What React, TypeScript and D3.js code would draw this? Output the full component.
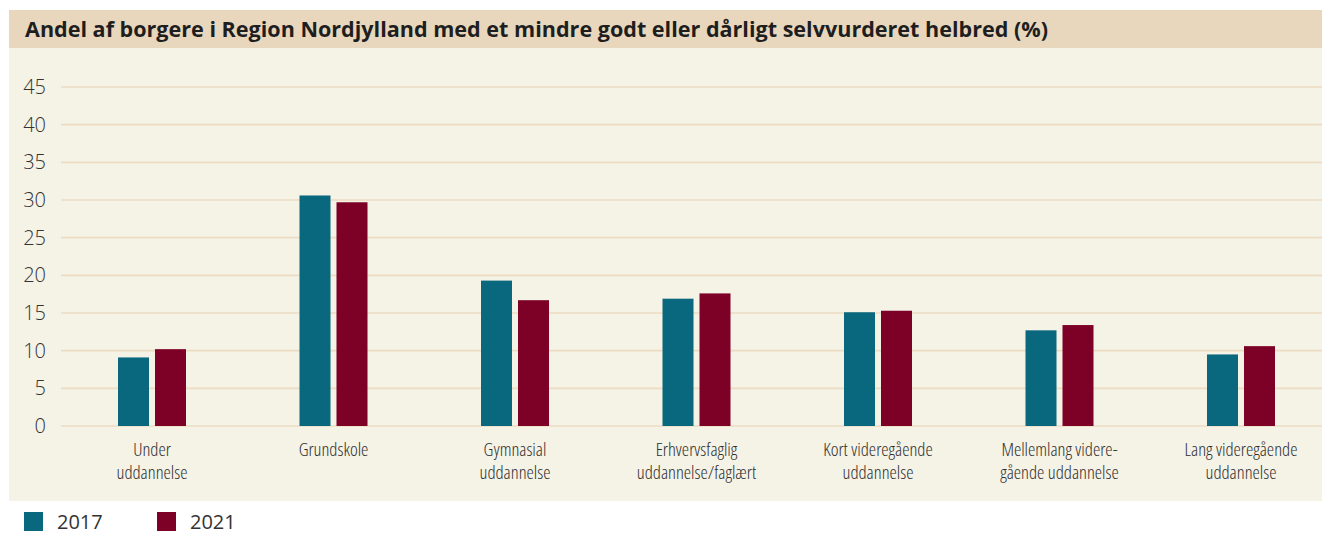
import React from "react";
import * as d3 from "d3";

const title = "Andel af borgere i Region Nordjylland med et mindre godt eller dårligt selvvurderet helbred (%)";
const categories = [
  ["Under", "uddannelse"],
  ["Grundskole"],
  ["Gymnasial", "uddannelse"],
  ["Erhvervsfaglig", "uddannelse/faglært"],
  ["Kort videregående", "uddannelse"],
  ["Mellemlang videre-", "gående uddannelse"],
  ["Lang videregående", "uddannelse"],
];
const seriesNames = ["2017", "2021"];
const values2017 = [9.1, 30.6, 19.3, 16.9, 15.1, 12.7, 9.5];
const values2021 = [10.2, 29.7, 16.7, 17.6, 15.3, 13.4, 10.6];
const yTicks = [0, 5, 10, 15, 20, 25, 30, 35, 40, 45];
const colors = ["#0a687e", "#7d0027"];

const W = 1322;
const H = 534;

export default function App() {
  const keys = categories.map((c) => c.join(" "));
  const x0 = d3.scaleBand<string>().domain(keys).range([61.25, 1331.75]).paddingInner(0).paddingOuter(0);
  const x1 = d3.scaleBand<string>().domain(seriesNames).range([-34, 34]).paddingInner(0.162).paddingOuter(0);
  const y = d3.scaleLinear().domain([0, 45]).range([426, 87]);
  const seriesVals = [values2017, values2021];
  const font = "'Open Sans', 'Noto Sans', sans-serif";

  return (
    <svg width={W} height={H} style={{ position: "absolute", left: 0, top: 0 }} fontFamily={font}>
      <rect x={9} y={10} width={W - 9} height={491} fill="#f5f2e6" />
      <rect x={9} y={10} width={W - 9} height={38} fill="#e8d7bd" />
      <text x={25} y={37} fontSize={20.5} fontWeight={700} fill="#1e1e1e" textLength={1023} lengthAdjust="spacingAndGlyphs">{title}</text>
      {yTicks.map((t) => (
        <g key={t}>
          <line x1={61} x2={W} y1={y(t)} y2={y(t)} stroke="#ecdcc4" strokeWidth={1.6} />
          <text x={46} y={y(t) + 7} textAnchor="end" fontSize={20} fill="#333" fontWeight={300}>{t}</text>
        </g>
      ))}
      {keys.map((k, i) => {
        const cx = (x0(k) as number) + x0.bandwidth() / 2;
        return (
          <g key={k}>
            {seriesNames.map((s, j) => (
              <rect key={s} x={cx + (x1(s) as number)} width={x1.bandwidth()} y={y(seriesVals[j][i])}
                height={y(0) - y(seriesVals[j][i])} fill={colors[j]} />
            ))}
            {categories[i].map((line, li) => (
              <text key={li} x={cx} y={456 + li * 22.5} textAnchor="middle" fontSize={18.5} fontWeight={300} fill="#2e2e2e"
                style={{ fontStretch: "condensed" }}>{line}</text>
            ))}
          </g>
        );
      })}
      {seriesNames.map((s, j) => (
        <g key={s} transform={`translate(${24 + j * 133},512)`}>
          <rect width={19} height={19} fill={colors[j]} />
          <text x={33} y={17} fontSize={20} fill="#333">{s}</text>
        </g>
      ))}
    </svg>
  );
}
